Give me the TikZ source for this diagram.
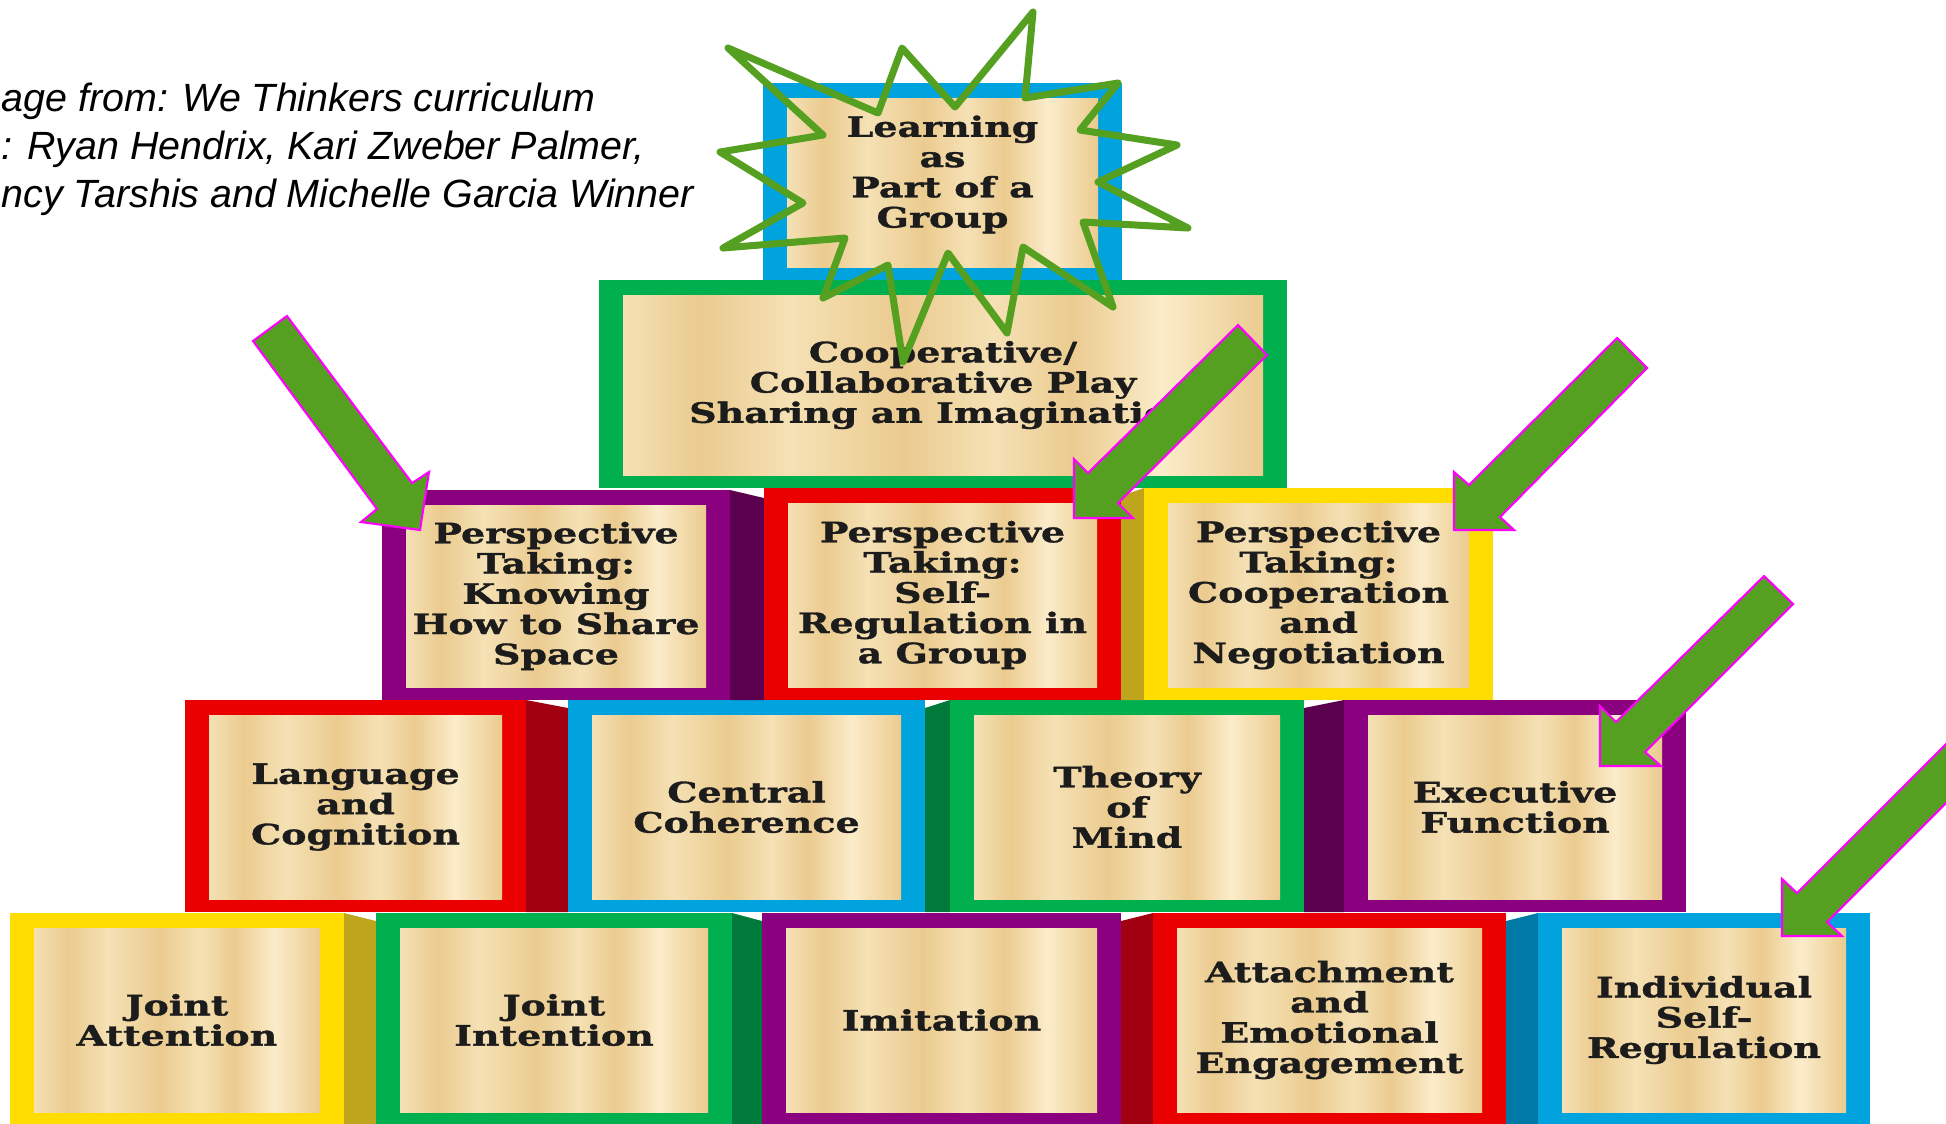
\documentclass[tikz,border=0pt]{standalone}
\usepackage{fontspec}
\setmainfont{Liberation Sans}
\newfontfamily\brickfont[FakeStretch=1.35,FakeBold=1.2]{DejaVu Serif}
\usetikzlibrary{calc}

\definecolor{byellow}{HTML}{FFDD00}
\definecolor{dyellow}{HTML}{BFA41E}
\definecolor{bgreen}{HTML}{00AF4D}
\definecolor{dgreen}{HTML}{007A3A}
\definecolor{bpurple}{HTML}{8A007E}
\definecolor{dpurple}{HTML}{5A004F}
\definecolor{bred}{HTML}{EA0000}
\definecolor{dred}{HTML}{A00010}
\definecolor{bblue}{HTML}{00A3DD}
\definecolor{dblue}{HTML}{0079A6}
\definecolor{leaf}{HTML}{56A021}
\definecolor{pink}{HTML}{FF00FF}
\definecolor{ink}{HTML}{1C1C1C}
\definecolor{goldA}{HTML}{F5E1B5}
\definecolor{goldB}{HTML}{EBCB8F}
\definecolor{goldC}{HTML}{FBECCA}

\pgfdeclarehorizontalshading{gold}{100bp}{color(0bp)=(goldA); color(25bp)=(goldA);
  color(31bp)=(goldB); color(38bp)=(goldA); color(47bp)=(goldB); color(54bp)=(goldA);
  color(60bp)=(goldB); color(67bp)=(goldC); color(75bp)=(goldB); color(100bp)=(goldB)}

\tikzset{
  bricktext/.style={font=\brickfont\bfseries\fontsize{8}{8.6}\selectfont,
    text=ink, align=center, inner sep=0pt},
  credit/.style={font=\itshape\fontsize{11.2}{12}\selectfont, inner sep=0pt, anchor=base west},
  starline/.style={draw=leaf, line width=2pt, line join=round},
  bigarrow/.style={fill=leaf, draw=pink, line width=0.6pt},
}

\newcommand\brick[8][]{%
  \fill[#3] (#4,#5) rectangle (#6,#7);
  \shade[shading=gold] ($(#4,#5)+(24,15)$) rectangle ($(#6,#7)+(-24,-13)$);
  \node[bricktext,#1] (#2) at ($(#4,#5)!.5!(#6,#7)+(0,1)$) {#8};
}

\begin{document}
\begin{tikzpicture}[x=0.01cm,y=-0.01cm]
  \useasboundingbox (0,0) rectangle (1946,1123);
  \clip (0,0) rectangle (1946,1123);

  \node[credit] (cr1) at (1,111) {age from: We Thinkers curriculum};
  \node[credit] (cr2) at (1,159) {: Ryan Hendrix, Kari Zweber Palmer,};
  \node[credit] (cr3) at (1,207) {ncy Tarshis and Michelle Garcia Winner};

  \fill[dyellow] (344,913) -- (376,921) -- (376,1125) -- (344,1125) -- cycle;
  \brick{ja}{byellow}{10}{913}{344}{1125}{Joint\\Attention}
  \fill[dgreen] (732,913) -- (762,921) -- (762,1125) -- (732,1125) -- cycle;
  \brick{ji}{bgreen}{376}{913}{732}{1125}{Joint\\Intention}
  \brick{im}{bpurple}{762}{913}{1121}{1125}{Imitation}
  \fill[dred] (1121,921) -- (1153,913) -- (1153,1125) -- (1121,1125) -- cycle;
  \brick{ae}{bred}{1153}{913}{1506}{1125}{Attachment\\and\\Emotional\\Engagement}
  \fill[dblue] (1506,921) -- (1538,913) -- (1538,1125) -- (1506,1125) -- cycle;
  \brick{isr}{bblue}{1538}{913}{1870}{1125}{Individual\\Self-\\Regulation}

  \brick{lc}{bred}{185}{700}{526}{912}{Language\\and\\Cognition}
  \fill[dred] (526,700) -- (568,708) -- (568,912) -- (526,912) -- cycle;
  \brick{cc}{bblue}{568}{700}{925}{912}{Central\\Coherence}
  \fill[dgreen] (925,708) -- (950,700) -- (950,912) -- (925,912) -- cycle;
  \brick{tm}{bgreen}{950}{700}{1304}{912}{Theory\\of\\Mind}
  \fill[dpurple] (1304,708) -- (1344,700) -- (1344,912) -- (1304,912) -- cycle;
  \brick{ef}{bpurple}{1344}{700}{1686}{912}{Executive\\Function}

  \brick{pk}{bpurple}{382}{490}{730}{700}{Perspective\\Taking:\\Knowing\\How to Share\\Space}
  \fill[dpurple] (730,490) -- (764,498) -- (764,700) -- (730,700) -- cycle;
  \brick{ps}{bred}{764}{488}{1121}{700}{Perspective\\Taking:\\Self-\\Regulation in\\a Group}
  \fill[dyellow] (1121,496) -- (1144,488) -- (1144,700) -- (1121,700) -- cycle;
  \brick{pc}{byellow}{1144}{488}{1493}{700}{Perspective\\Taking:\\Cooperation\\and\\Negotiation}

  \brick{cp}{bgreen}{599}{280}{1287}{488}{Cooperative/\\Collaborative Play\\Sharing an Imagination}
  \brick[yshift=2.3pt]{lg}{bblue}{763}{83}{1122}{280}{Learning\\as\\Part of a\\Group}

  \draw[starline] (728,48) -- (878,113) -- (902,48) -- (955,107) -- (1033,12) -- (1025,98)
    -- (1118,83) -- (1080,130) -- (1177,145) -- (1098,182) -- (1188,228) -- (1083,222)
    -- (1113,307) -- (1023,247) -- (1007,333) -- (948,253) -- (903,362) -- (888,265)
    -- (823,298) -- (845,238) -- (723,248) -- (803,203) -- (720,152) -- (823,135) -- cycle;

  \draw[bigarrow] (253,341) -- (287,316) -- (412,483) -- (429,472) -- (420,530) -- (361,522) -- (377,509) -- cycle;
  \draw[bigarrow] (1238,325) -- (1267,355) -- (1118,503) -- (1133,518) -- (1074,518) -- (1074,459) -- (1088,473) -- cycle;
  \draw[bigarrow] (1617,338) -- (1647,368) -- (1500,517) -- (1514,530) -- (1454,530) -- (1454,472) -- (1469,485) -- cycle;
  \draw[bigarrow] (1764,576) -- (1793,604) -- (1645,752) -- (1661,766) -- (1600,766) -- (1600,706) -- (1616,722) -- cycle;
  \draw[bigarrow] (1990,700) -- (2020,729) -- (1827,922) -- (1842,936) -- (1782,936) -- (1782,879) -- (1797,893) -- cycle;
\end{tikzpicture}
\end{document}
